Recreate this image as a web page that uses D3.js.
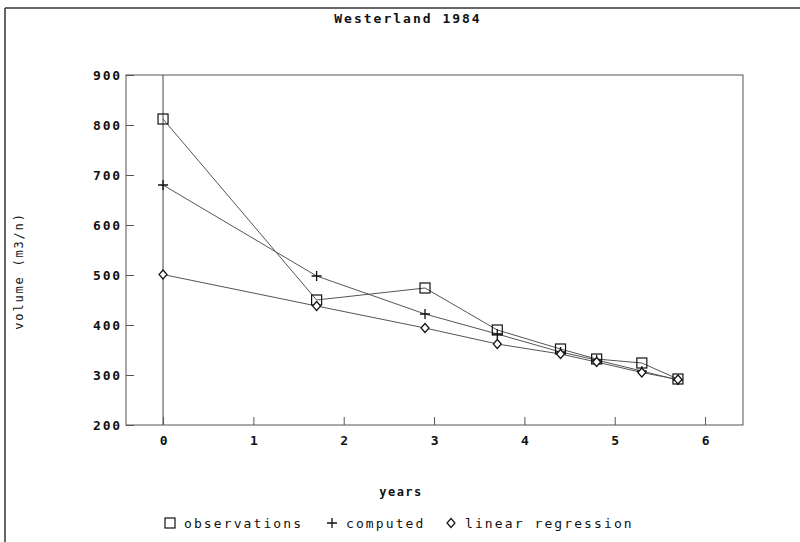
<!DOCTYPE html>
<html><head><meta charset="utf-8">
<script src="https://cdn.jsdelivr.net/npm/d3@7"></script>
<style>
body{margin:0;background:#fff;}
text{font-family:"DejaVu Sans Mono","Liberation Mono",monospace;fill:#111;}
</style></head>
<body>
<svg id="c" width="800" height="542"></svg>
<script>
const years = [0, 1.7, 2.9, 3.7, 4.4, 4.8, 5.3, 5.7];
const observations = [812, 450, 474, 390, 352, 332, 324, 292];
const computed = [680, 498, 422, 382, 346, 330, 308, 290];
const linearRegression = [501, 438, 394, 362, 342, 326, 305, 291];
const seriesNames = ["observations", "computed", "linear regression"];
const seriesSymbols = ["square", "plus", "diamond"];
const xTicks = [0, 1, 2, 3, 4, 5, 6];
const yTicks = [200, 300, 400, 500, 600, 700, 800, 900];
const title = "Westerland 1984";
const xLabel = "years";
const yLabel = "volume (m3/n)";

const svg = d3.select("#c");
const L = 126, R = 743, T = 75, B = 425;
const x = d3.scaleLinear().domain([-0.41, 6.42]).range([L, R]);
const y = d3.scaleLinear().domain([200, 900]).range([B, T]);

// page frame
svg.append("line").attr("x1",5).attr("x2",800).attr("y1",8).attr("y2",8).attr("stroke","#333").attr("stroke-width",1.5);
svg.append("line").attr("x1",5).attr("x2",5).attr("y1",8).attr("y2",542).attr("stroke","#333").attr("stroke-width",1.5);

svg.append("text").attr("x",408).attr("y",23).attr("text-anchor","middle")
  .attr("font-size",13).attr("font-weight","bold").attr("letter-spacing",2).text(title);

// plot box
svg.append("rect").attr("x",L).attr("y",T).attr("width",R-L).attr("height",B-T)
  .attr("fill","none").attr("stroke","#555").attr("stroke-width",1);

// vertical zero line
svg.append("line").attr("x1",x(0)).attr("x2",x(0)).attr("y1",T).attr("y2",B).attr("stroke","#444");

// axes
const yAxis = d3.axisLeft(y).tickValues(yTicks).tickSize(-8).tickPadding(4).tickFormat(d3.format("d"));
const gy = svg.append("g").attr("transform",`translate(${L},0)`).call(yAxis);
const xAxis = d3.axisBottom(x).tickValues(xTicks).tickSize(-8).tickPadding(11).tickFormat(d3.format("d"));
const gx = svg.append("g").attr("transform",`translate(0,${B})`).call(xAxis);
[gx, gy].forEach(g=>{
  g.select(".domain").remove();
  g.selectAll(".tick line").attr("stroke","#555");
  g.selectAll(".tick text").attr("font-size",13).attr("letter-spacing",1.8)
    .attr("font-family","'DejaVu Sans Mono',monospace").attr("font-weight","bold").attr("fill","#111");
});
gx.selectAll(".tick text").attr("letter-spacing",0);

svg.append("text").attr("x",401).attr("y",496).attr("text-anchor","middle")
  .attr("font-size",12).attr("letter-spacing",1.5).attr("font-weight","bold").text(xLabel);
svg.append("text").attr("transform","translate(23,271) rotate(-90)").attr("text-anchor","middle")
  .attr("font-size",12).attr("letter-spacing",1.8).text(yLabel);

const all = [observations, computed, linearRegression];
const line = d3.line().x((d,i)=>x(years[i])).y(d=>y(d));

function drawMarker(g, type, cx, cy){
  if(type==="plus"){
    g.append("path").attr("d",`M${cx-5},${cy}H${cx+5}M${cx},${cy-5}V${cy+5}`)
      .attr("stroke","#111").attr("stroke-width",1.3).attr("fill","none");
  } else if(type==="square"){
    g.append("rect").attr("x",cx-5).attr("y",cy-5).attr("width",10).attr("height",10)
      .attr("fill","none").attr("stroke","#111").attr("stroke-width",1.2);
  } else {
    g.append("path").attr("d",`M${cx},${cy-4.5}L${cx+4},${cy}L${cx},${cy+4.5}L${cx-4},${cy}Z`)
      .attr("fill","#fff").attr("stroke","#111").attr("stroke-width",1.2);
  }
}

all.forEach((vals,k)=>{
  svg.append("path").datum(vals).attr("d",line).attr("fill","none").attr("stroke","#555").attr("stroke-width",1);
});
all.forEach((vals,k)=>{
  const g = svg.append("g");
  vals.forEach((v,i)=>drawMarker(g, seriesSymbols[k], x(years[i]), y(v)));
});

// legend
const legX = [170, 332, 451];
const lg = svg.append("g");
seriesNames.forEach((n,k)=>{
  drawMarker(lg, seriesSymbols[k], legX[k], 523);
  lg.append("text").attr("x",legX[k]+14).attr("y",528).attr("font-size",13).attr("letter-spacing",2.1).text(n);
});
</script>
</body></html>
